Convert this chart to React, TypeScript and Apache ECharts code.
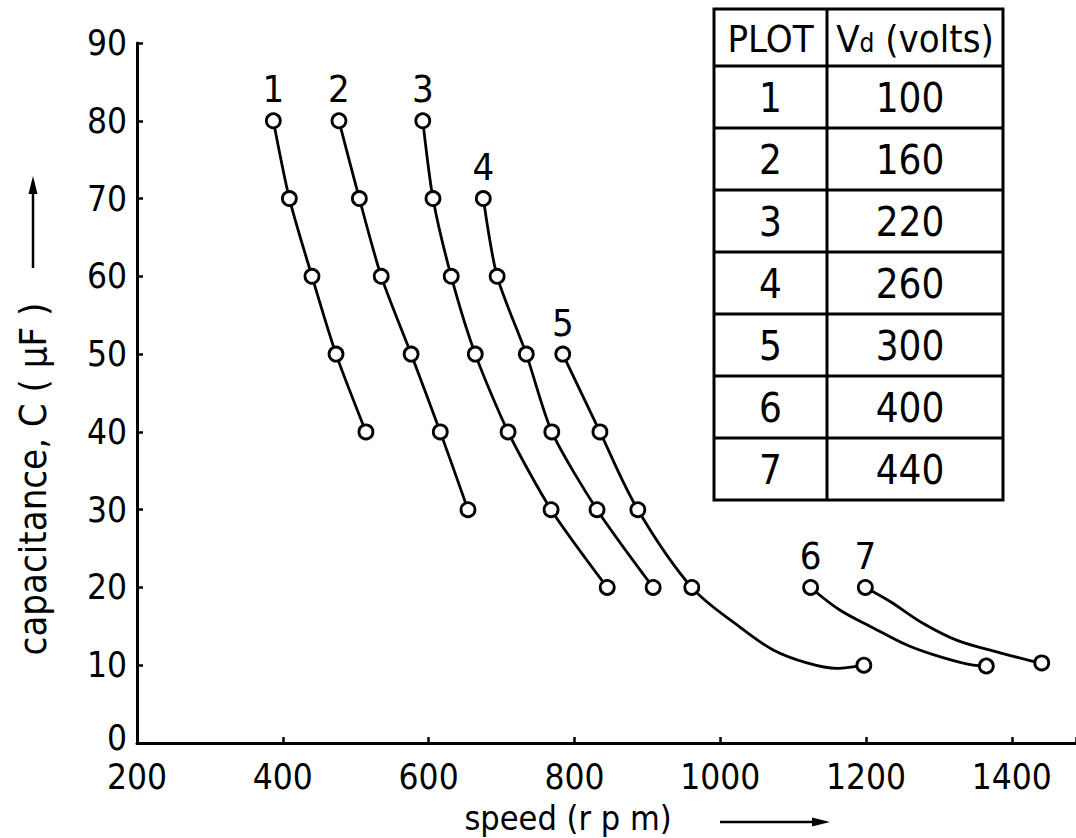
import React, { useEffect, useRef } from 'react';
import * as echarts from 'echarts';

// ---- axis ticks ----
const X_TICKS = [200, 400, 600, 800, 1000, 1200, 1400];
const Y_TICKS = [0, 10, 20, 30, 40, 50, 60, 70, 80, 90];

// ---- table ----
const TABLE_HEAD = ['PLOT', 'Vd (volts)'];
const PLOT_IDS = ['1', '2', '3', '4', '5', '6', '7'];
const VOLTAGES = [100, 160, 220, 260, 300, 400, 440];

// ---- measured points (speed rpm, capacitance uF) ----
const SPEED_1 = [387, 409, 440, 473, 514];
const CAP_1 = [80, 70, 60, 50, 40];
const SPEED_2 = [477, 505, 535, 576, 616, 654];
const CAP_2 = [80, 70, 60, 50, 40, 30];
const SPEED_3 = [592, 606, 631, 664, 709, 768, 845];
const CAP_3 = [80, 70, 60, 50, 40, 30, 20];
const SPEED_4 = [675, 694, 734, 769, 831, 908];
const CAP_4 = [70, 60, 50, 40, 30, 20];
const SPEED_5 = [784, 835, 887, 961, 1197];
const CAP_5 = [50, 40, 30, 20, 10];
const SPEED_6 = [1124, 1365];
const CAP_6 = [20, 9.9];
const SPEED_7 = [1199, 1441];
const CAP_7 = [20, 10.3];

// ---- drawn curve traces for curves 5..7 ----
const TRACE_SPEED_5 = [784, 835, 887, 961, 1027, 1072, 1119, 1160, 1182, 1197];
const TRACE_CAP_5 = [50, 40, 30, 20, 14.9, 12.0, 10.3, 9.6, 9.8, 10];
const TRACE_SPEED_6 = [1124, 1164, 1210, 1256, 1301, 1347, 1365];
const TRACE_CAP_6 = [20, 17.1, 14.8, 12.6, 11.1, 10.0, 9.9];
const TRACE_SPEED_7 = [1199, 1233, 1278, 1325, 1384, 1421, 1441];
const TRACE_CAP_7 = [20, 18.2, 15.4, 13.2, 11.6, 10.7, 10.3];

const X_TITLE = 'speed (r p m)';
const Y_TITLE = 'capacitance, C ( \u03bcF )';

const FONT = "'Liberation Sans Narrow', 'DejaVu Sans Condensed', sans-serif";
const TICK_FONT_SIZE = 35;

const SPEEDS = [SPEED_1, SPEED_2, SPEED_3, SPEED_4, SPEED_5, SPEED_6, SPEED_7];
const CAPS = [CAP_1, CAP_2, CAP_3, CAP_4, CAP_5, CAP_6, CAP_7];
const TRACE_SPEEDS = [SPEED_1, SPEED_2, SPEED_3, SPEED_4, TRACE_SPEED_5, TRACE_SPEED_6, TRACE_SPEED_7];
const TRACE_CAPS = [CAP_1, CAP_2, CAP_3, CAP_4, TRACE_CAP_5, TRACE_CAP_6, TRACE_CAP_7];

function buildTable(): any[] {
  const left = 714, mid = 827, right = 1003;
  const top = 9, headBottom = 66, rowH = 62;
  const bottom = headBottom + rowH * PLOT_IDS.length;
  const lw = 3;
  const els: any[] = [];
  els.push({
    type: 'rect',
    shape: { x: left, y: top, width: right - left, height: bottom - top },
    style: { fill: '#fff', stroke: '#000', lineWidth: lw },
    z: 10,
  });
  els.push({
    type: 'line',
    shape: { x1: mid, y1: top, x2: mid, y2: bottom },
    style: { stroke: '#000', lineWidth: lw },
    z: 11,
  });
  for (let i = 0; i < PLOT_IDS.length; i++) {
    const y = headBottom + rowH * i;
    els.push({
      type: 'line',
      shape: { x1: left, y1: y, x2: right, y2: y },
      style: { stroke: '#000', lineWidth: lw },
      z: 11,
    });
  }
  const c1 = (left + mid) / 2;
  const c2 = (mid + right) / 2;
  els.push({
    type: 'text',
    x: c1,
    y: (top + headBottom) / 2 + 1,
    style: { text: TABLE_HEAD[0], fontSize: 38, fontFamily: FONT, fill: '#000', align: 'center', verticalAlign: 'middle' },
    z: 12,
  });
  els.push({
    type: 'text',
    x: c2,
    y: (top + headBottom) / 2 + 1,
    style: {
      text: '{v|V}{d|d}{v| (volts)}',
      align: 'center',
      verticalAlign: 'middle',
      rich: {
        v: { fontSize: 38, fontFamily: FONT, fill: '#000', verticalAlign: 'bottom' },
        d: { fontSize: 26, fontFamily: FONT, fill: '#000', verticalAlign: 'bottom', padding: [0, 0, 2, 0] },
      },
    },
    z: 12,
  });
  for (let i = 0; i < PLOT_IDS.length; i++) {
    const cy = headBottom + rowH * i + rowH / 2 + 1;
    els.push({
      type: 'text',
      x: c1,
      y: cy,
      style: { text: PLOT_IDS[i], fontSize: 40, fontFamily: FONT, fill: '#000', align: 'center', verticalAlign: 'middle' },
      z: 12,
    });
    els.push({
      type: 'text',
      x: c2 - 5,
      y: cy,
      style: { text: String(VOLTAGES[i]), fontSize: 40, fontFamily: FONT, fill: '#000', align: 'center', verticalAlign: 'middle' },
      z: 12,
    });
  }
  return els;
}

function buildTitles(): any[] {
  return [
    {
      type: 'text',
      x: 33,
      y: 479,
      rotation: Math.PI / 2,
      style: { text: Y_TITLE, fontSize: 38, fontFamily: FONT, fill: '#000', align: 'center', verticalAlign: 'middle' },
    },
    {
      type: 'line',
      shape: { x1: 33, y1: 268, x2: 33, y2: 182 },
      style: { stroke: '#000', lineWidth: 2.5 },
    },
    {
      type: 'polygon',
      shape: { points: [[33, 176], [28.5, 194], [37.5, 194]] },
      style: { fill: '#000' },
    },
    {
      type: 'text',
      x: 568,
      y: 818,
      style: { text: X_TITLE, fontSize: 34, fontFamily: FONT, fill: '#000', align: 'center', verticalAlign: 'middle' },
    },
    {
      type: 'line',
      shape: { x1: 720, y1: 822, x2: 822, y2: 822 },
      style: { stroke: '#000', lineWidth: 2.5 },
    },
    {
      type: 'polygon',
      shape: { points: [[830, 822], [812, 817.5], [812, 826.5]] },
      style: { fill: '#000' },
    },
  ];
}

function buildSeries(): any[] {
  const series: any[] = [];
  for (let i = 0; i < SPEEDS.length; i++) {
    series.push({
      type: 'line',
      name: 'curve ' + PLOT_IDS[i],
      data: TRACE_SPEEDS[i].map((s, j) => [s, TRACE_CAPS[i][j]]),
      smooth: i < 4 ? 0.25 : 0.35,
      showSymbol: false,
      symbol: 'none',
      silent: true,
      lineStyle: { color: '#000', width: 2.8, opacity: 1 },
      z: 2,
    });
    series.push({
      type: 'scatter',
      name: 'plot ' + PLOT_IDS[i],
      data: SPEEDS[i].map((s, j) => {
        const item: any = { value: [s, CAPS[i][j]] };
        if (j === 0) {
          item.label = {
            show: true,
            position: 'top',
            distance: 4,
            formatter: PLOT_IDS[i],
            fontSize: 38,
            fontFamily: FONT,
            color: '#000',
            opacity: 1,
          };
        }
        return item;
      }),
      symbol: 'circle',
      symbolSize: 14,
      itemStyle: { color: '#fff', borderColor: '#000', borderWidth: 2.8, opacity: 1 },
      emphasis: { disabled: true },
      z: 3,
    });
  }
  return series;
}

export default function App() {
  const ref = useRef<HTMLDivElement>(null);
  useEffect(() => {
    if (!ref.current) return;
    const chart = echarts.init(ref.current, undefined, { renderer: 'svg' });
    const option: any = {
      animation: false,
      backgroundColor: '#fff',
      grid: { left: 137, top: 43, right: 0, bottom: 95, containLabel: false, outerBoundsMode: 'none' },
      xAxis: {
        type: 'value',
        min: X_TICKS[0],
        max: 1488,
        interval: 200,
        splitLine: { show: false },
        axisLine: { show: true, onZero: false, lineStyle: { color: '#000', width: 3 } },
        axisTick: { show: true, inside: true, length: 6, lineStyle: { color: '#000', width: 2.5 } },
        axisLabel: {
          color: '#000',
          fontSize: TICK_FONT_SIZE,
          fontFamily: FONT,
          margin: 16,
          formatter: (v: number) => (X_TICKS.indexOf(v) >= 0 ? String(v) : ''),
        },
      },
      yAxis: {
        type: 'value',
        min: Y_TICKS[0],
        max: Y_TICKS[Y_TICKS.length - 1],
        interval: 10,
        splitLine: { show: false },
        axisLine: { show: true, onZero: false, lineStyle: { color: '#000', width: 3 } },
        axisTick: { show: true, inside: true, length: 6, lineStyle: { color: '#000', width: 2.5 } },
        axisLabel: {
          color: '#000',
          fontSize: TICK_FONT_SIZE,
          fontFamily: FONT,
          margin: 10,
          formatter: (v: number) => (v === Y_TICKS[0] ? '{z|' + v + '}' : String(v)),
          rich: {
            z: { fontSize: TICK_FONT_SIZE, fontFamily: FONT, color: '#000', padding: [0, 0, 10, 0] },
          },
        },
      },
      graphic: [...buildTitles(), ...buildTable()],
      series: buildSeries(),
    };
    chart.setOption(option);
    return () => chart.dispose();
  }, []);
  return (
    <div
      ref={ref}
      style={{ position: 'fixed', left: 0, top: 0, width: 1076, height: 838, background: '#fff' }}
    />
  );
}
